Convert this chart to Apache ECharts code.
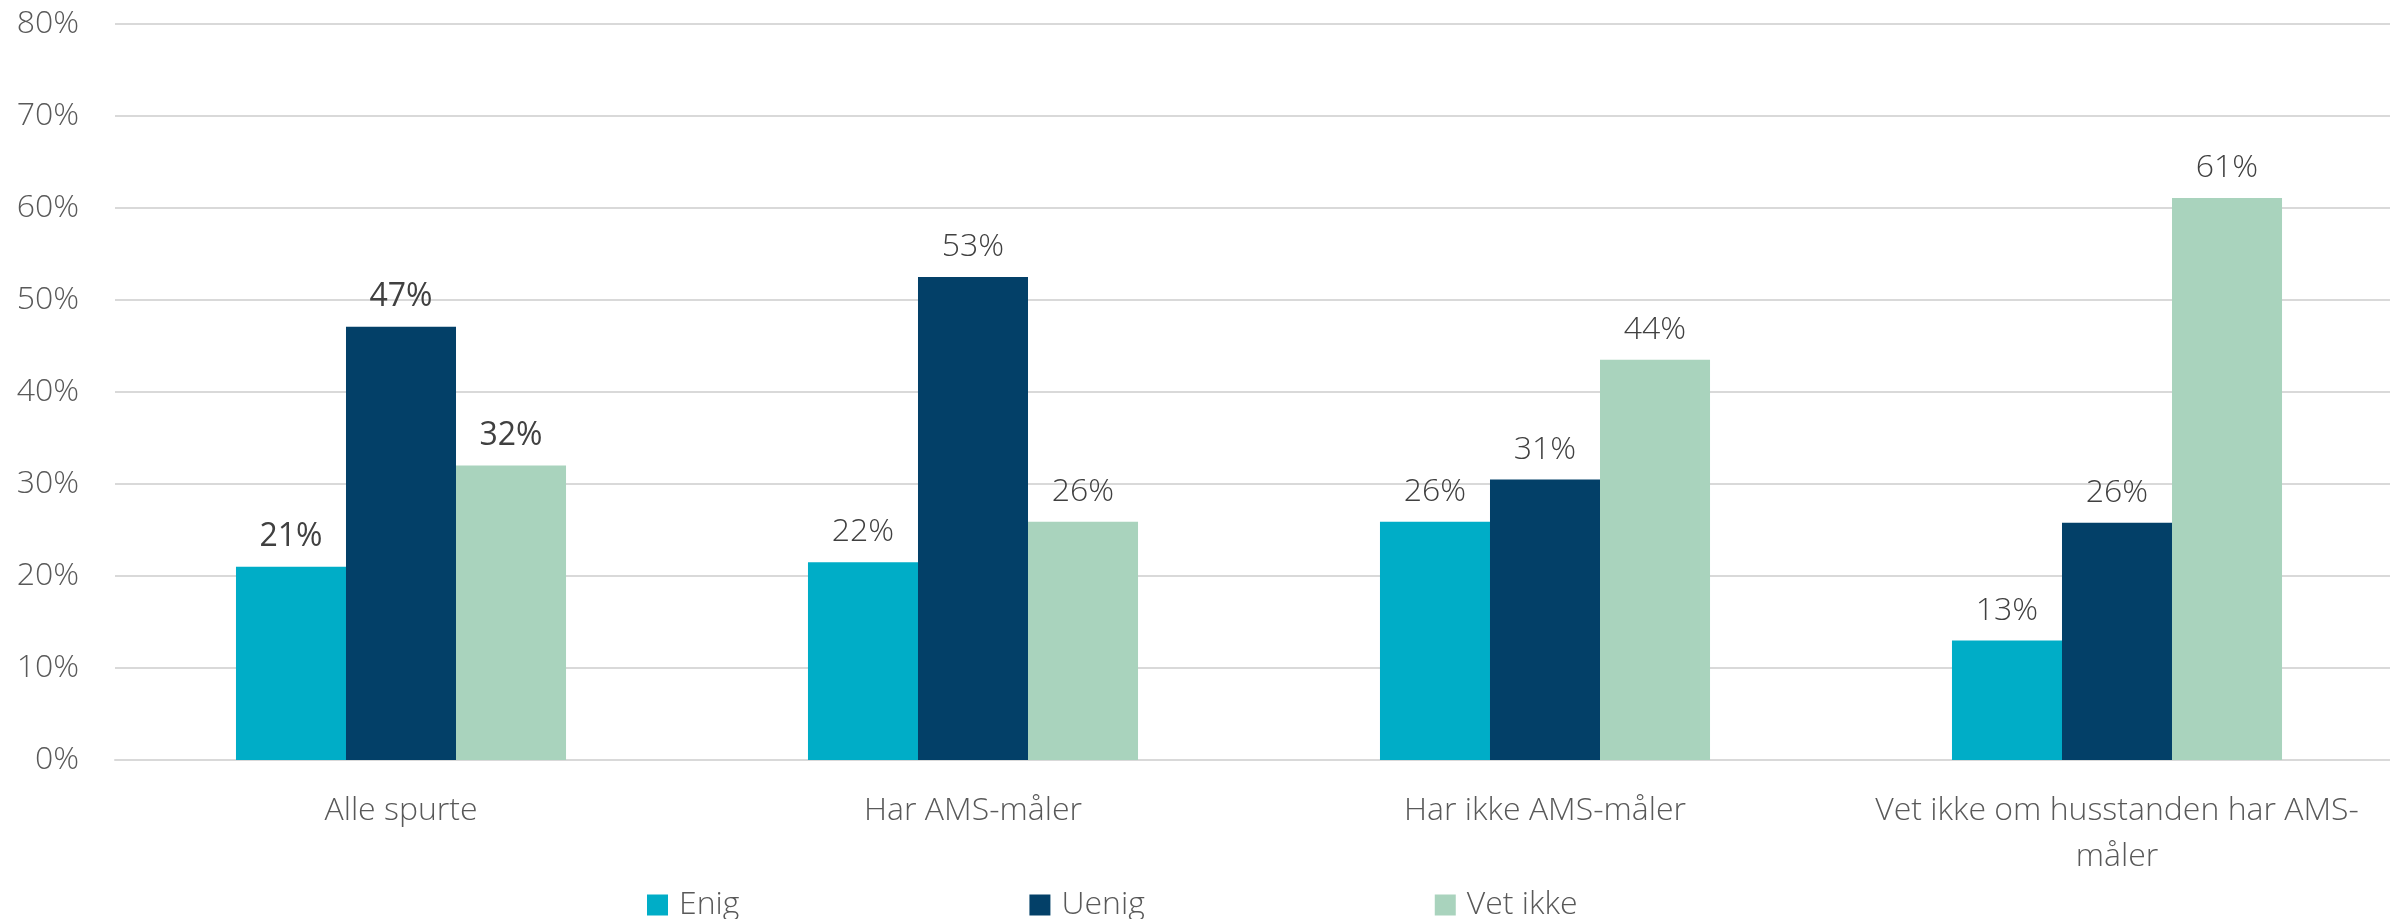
<!DOCTYPE html>
<html>
<head>
<meta charset="utf-8">
<script src="https://cdn.jsdelivr.net/npm/echarts@6/dist/echarts.min.js"></script>
<style>
html,body{margin:0;padding:0;background:#fff;overflow:hidden;width:2390px;height:919px;}
#chart{width:2410px;height:919px;}
</style>
</head>
<body>
<div id="chart"></div>
<script>
const categories = ['Alle spurte', 'Har AMS-måler', 'Har ikke AMS-måler', 'Vet ikke om husstanden har AMS-\nmåler'];
const seriesNames = ['Enig', 'Uenig', 'Vet ikke'];
const enig = [21.0, 21.5, 25.9, 13.0];
const uenig = [47.1, 52.5, 30.5, 25.8];
const vetIkke = [32.0, 25.9, 43.5, 61.1];
const yTicks = { min: 0, max: 80, interval: 10 };
const colors = ['#00ADC7', '#034068', '#A9D3BD'];

const FONT = 'Open Sans';
const chart = echarts.init(document.getElementById('chart'), null, { renderer: 'canvas' });

function mkData(arr) {
  return arr.map((v, i) => ({
    value: v,
    label: { fontWeight: i === 0 ? 'normal' : 300 }
  }));
}

const valuesList = [enig, uenig, vetIkke];

chart.setOption({
  animation: false,
  backgroundColor: '#fff',
  grid: { left: 115, top: 24, width: 2288, height: 736 },
  legend: {
    left: 642,
    top: 884,
    itemWidth: 21,
    itemHeight: 21,
    itemGap: 290,
    icon: 'rect',
    textStyle: { fontFamily: FONT, fontSize: 32, fontWeight: 300, color: '#595959', padding: [0, 0, 0, 6] },
    data: seriesNames
  },
  xAxis: {
    type: 'category',
    data: categories,
    axisLine: { show: true, lineStyle: { color: '#D9D9D9', width: 2 } },
    axisTick: { show: false },
    axisLabel: {
      fontFamily: FONT, fontSize: 32, fontWeight: 300, color: '#595959',
      margin: 28, lineHeight: 46, interval: 0
    }
  },
  yAxis: {
    type: 'value',
    min: yTicks.min, max: yTicks.max, interval: yTicks.interval,
    axisLine: { show: false },
    axisTick: { show: false },
    splitLine: { lineStyle: { color: '#D9D9D9', width: 2 } },
    axisLabel: {
      fontFamily: FONT, fontSize: 32, fontWeight: 300, color: '#595959',
      margin: 36, formatter: '{value}%'
    }
  },
  series: seriesNames.map((name, k) => ({
    name: name,
    type: 'bar',
    barGap: '0%',
    barCategoryGap: '42.3%',
    itemStyle: { color: colors[k] },
    label: {
      show: true,
      position: 'top',
      distance: 14,
      fontFamily: FONT,
      fontSize: 32,
      color: '#404040',
      formatter: p => Math.round(p.value) + '%'
    },
    data: mkData(valuesList[k])
  }))
});
</script>
</body>
</html>
